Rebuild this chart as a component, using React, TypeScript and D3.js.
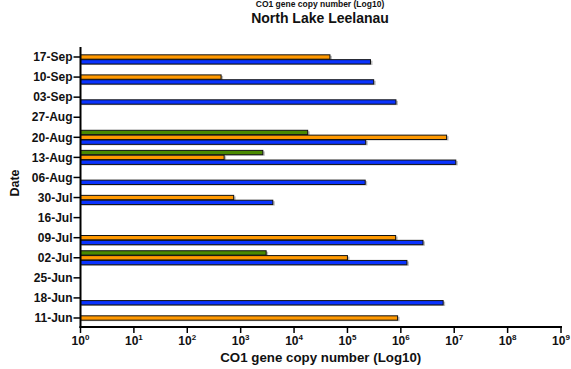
import { useEffect, useRef } from 'react';
import * as d3 from 'd3';

// dates, top to bottom
const dates = ['17-Sep', '10-Sep', '03-Sep', '27-Aug', '20-Aug', '13-Aug', '06-Aug', '30-Jul', '16-Jul', '09-Jul', '02-Jul', '25-Jun', '18-Jun', '11-Jun'];
const seriesKeys = ['green', 'orange', 'blue'];
const seriesColors = ['#4a8a00', '#ff9900', '#0a33ff'];

// gene copy numbers per date (null = no bar)
const greenValues = [null, null, null, null, 1.8e4, 2.6e3, null, null, null, null, 3.0e3, null, null, null];
const orangeValues = [4.7e4, 430, null, null, 7.2e6, 490, null, 740, null, 8.0e5, 1.0e5, null, null, 8.7e5];
const blueValues = [2.7e5, 3.1e5, 8.1e5, null, 2.2e5, 1.07e7, 2.15e5, 4.0e3, null, 2.6e6, 1.3e6, null, 6.2e6, null];

const xTickExps = [0, 1, 2, 3, 4, 5, 6, 7, 8, 9];

const App = () => {
  const svgRef = useRef<SVGSVGElement>(null);

  useEffect(() => {
    if (!svgRef.current) return;
    const W = 571, H = 369;
    const left = 80.5, right = 561, top = 47, bottom = 327;
    const font = "'Liberation Sans', Arial, sans-serif";
    const ink = '#111';

    const svg = d3.select(svgRef.current);
    svg.selectAll('*').remove();
    svg.attr('width', W).attr('height', H);

    const x = d3.scaleLog().domain([1, 1e9]).range([left, right]);
    const y = d3.scalePoint<string>().domain(dates).range([57, 318]);
    const inner = d3.scaleBand<string>().domain(seriesKeys).range([-7.5, 7.5]).padding(0.1);

    const allSeries = [greenValues, orangeValues, blueValues];
    const bars: { key: string; color: string; date: string; v: number }[] = [];
    allSeries.forEach((vals, si) => {
      vals.forEach((v, i) => {
        if (v != null) bars.push({ key: seriesKeys[si], color: seriesColors[si], date: dates[i], v });
      });
    });

    const g = svg.append('g');
    const bh = inner.bandwidth();
    // grey drop shadow
    g.selectAll('rect.shadow').data(bars).enter().append('rect')
      .attr('x', left + 1)
      .attr('y', d => y(d.date)! + inner(d.key)! + 1)
      .attr('width', d => x(d.v) - left + 1)
      .attr('height', bh)
      .attr('fill', '#bdbdbd');
    g.selectAll('rect.bar').data(bars).enter().append('rect')
      .attr('x', left)
      .attr('y', d => y(d.date)! + inner(d.key)!)
      .attr('width', d => x(d.v) - left)
      .attr('height', bh)
      .attr('fill', d => d.color)
      .attr('stroke', '#111')
      .attr('stroke-width', 1);

    // y axis
    svg.append('line').attr('x1', left).attr('x2', left).attr('y1', top).attr('y2', bottom + 1)
      .attr('stroke', '#000').attr('stroke-width', 2);
    const yt = svg.append('g');
    dates.forEach(d => {
      const yy = y(d)!;
      yt.append('line').attr('x1', left - 7).attr('x2', left).attr('y1', yy).attr('y2', yy)
        .attr('stroke', '#000').attr('stroke-width', 1.5);
      yt.append('text').attr('x', left - 8).attr('y', yy).attr('dy', '0.35em')
        .attr('text-anchor', 'end').attr('font-family', font).attr('font-weight', 'bold')
        .attr('font-size', 12).attr('fill', ink).text(d);
    });

    // x axis
    svg.append('line').attr('x1', left - 1).attr('x2', right + 1).attr('y1', bottom).attr('y2', bottom)
      .attr('stroke', '#000').attr('stroke-width', 2);
    const xt = svg.append('g');
    xTickExps.forEach(e => {
      const xx = x(Math.pow(10, e));
      xt.append('line').attr('x1', xx).attr('x2', xx).attr('y1', bottom).attr('y2', bottom + 6)
        .attr('stroke', '#000').attr('stroke-width', 1.5);
      const t = xt.append('text').attr('x', xx).attr('y', bottom + 18)
        .attr('text-anchor', 'middle').attr('font-family', font).attr('font-weight', 'bold')
        .attr('font-size', 12).attr('fill', ink);
      t.append('tspan').text('10');
      t.append('tspan').attr('dy', -5).attr('font-size', 8).text(String(e));
    });

    svg.append('text').attr('x', (left + right) / 2).attr('y', 362)
      .attr('text-anchor', 'middle').attr('font-family', font).attr('font-weight', 'bold')
      .attr('font-size', 13.3).attr('fill', ink).text('CO1 gene copy number (Log10)');

    svg.append('text').attr('transform', 'rotate(-90)').attr('x', -183).attr('y', 19)
      .attr('text-anchor', 'middle').attr('font-family', font).attr('font-weight', 'bold')
      .attr('font-size', 12.5).attr('fill', ink).text('Date');

    // titles (first line is cropped off in the source; kept small here)
    svg.append('text').attr('x', 320).attr('y', 7)
      .attr('text-anchor', 'middle').attr('font-family', font).attr('font-weight', 'bold')
      .attr('font-size', 8.5).attr('fill', ink).text('CO1 gene copy number (Log10)');
    svg.append('text').attr('x', 320).attr('y', 23)
      .attr('text-anchor', 'middle').attr('font-family', font).attr('font-weight', 'bold')
      .attr('font-size', 14).attr('fill', ink).text('North Lake Leelanau');
  }, []);

  return (
    <div style={{ position: 'absolute', left: 0, top: 0 }}>
      <svg ref={svgRef} style={{ display: 'block' }}></svg>
    </div>
  );
};

export default App;
